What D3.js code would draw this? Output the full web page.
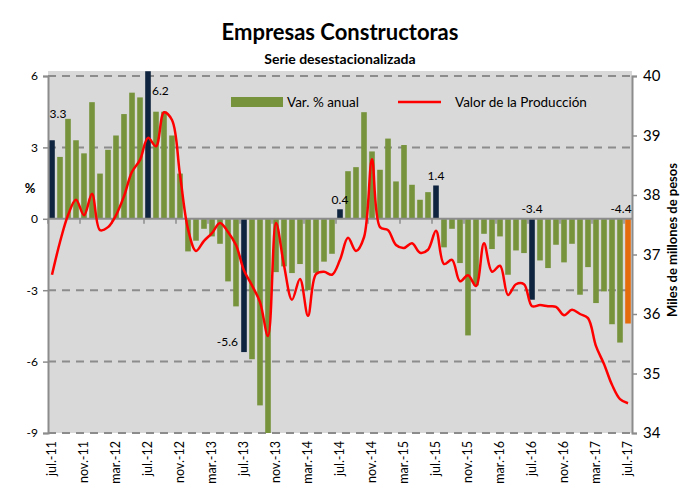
<!DOCTYPE html>
<html>
<head>
<meta charset="utf-8">
<script src="https://cdn.jsdelivr.net/npm/d3@7"></script>
<style>
  body { margin: 0; background: #fff; }
  text { font-family: Lato, "Open Sans", sans-serif; fill: #000; }
</style>
</head>
<body>
<script>
// monthly categories jul-11 .. jul-17
var months = [
  "jul.-11","ago.-11","sep.-11","oct.-11","nov.-11","dic.-11",
  "ene.-12","feb.-12","mar.-12","abr.-12","may.-12","jun.-12","jul.-12","ago.-12","sep.-12","oct.-12","nov.-12","dic.-12",
  "ene.-13","feb.-13","mar.-13","abr.-13","may.-13","jun.-13","jul.-13","ago.-13","sep.-13","oct.-13","nov.-13","dic.-13",
  "ene.-14","feb.-14","mar.-14","abr.-14","may.-14","jun.-14","jul.-14","ago.-14","sep.-14","oct.-14","nov.-14","dic.-14",
  "ene.-15","feb.-15","mar.-15","abr.-15","may.-15","jun.-15","jul.-15","ago.-15","sep.-15","oct.-15","nov.-15","dic.-15",
  "ene.-16","feb.-16","mar.-16","abr.-16","may.-16","jun.-16","jul.-16","ago.-16","sep.-16","oct.-16","nov.-16","dic.-16",
  "ene.-17","feb.-17","mar.-17","abr.-17","may.-17","jun.-17","jul.-17"
];

// Var. % anual (bars)
var varAnual = [
  3.3, 2.6, 4.2, 3.3, 2.75, 4.9,
  1.9, 2.9, 3.5, 4.4, 5.3, 5.1, 6.2, 4.5, 4.5, 3.5, 1.9, -1.37,
  -0.92, -0.42, -0.74, -1.05, -2.63, -3.68, -5.6, -5.9, -7.84, -9.0, -2.24, -2.0,
  -2.28, -1.9, -3.0, -2.27, -1.8, -1.47, 0.4, 2.0, 2.17, 4.48, 2.83, 2.06,
  3.37, 1.57, 3.1, 1.43, 0.8, 1.12, 1.4, -1.2, -0.42, -1.86, -4.9, -2.8,
  -0.63, -1.27, -0.74, -2.35, -1.33, -1.44, -3.4, -1.75, -2.07, -1.09, -1.83, -1.05,
  -3.19, -2.03, -3.54, -3.05, -4.43, -5.2, -4.4
];

// Valor de la Producción (line, miles de millones de pesos)
var valorProd = [
  36.66, 37.21, 37.66, 37.92, 37.66, 38.02,
  37.41, 37.46, 37.66, 37.98, 38.39, 38.59, 38.96, 38.82, 39.39, 39.26, 38.34, 37.43,
  37.06, 37.23, 37.36, 37.53, 37.38, 37.16, 36.73, 36.48, 36.20, 35.63, 37.53, 36.82,
  36.24, 36.59, 35.97, 36.67, 36.71, 36.66, 36.91, 37.28, 37.06, 37.29, 38.6, 37.46,
  37.41, 37.16, 37.11, 37.19, 37.03, 37.08, 37.4, 36.84, 36.91, 36.55, 36.65, 36.47,
  37.19, 36.71, 36.81, 36.32, 36.5, 36.5, 36.13, 36.15, 36.13, 36.12, 35.98, 36.07,
  36.0, 35.93, 35.46, 35.16, 34.81, 34.57, 34.5
];

// highlighted months (July of each year) and the latest month
var highlightMonths = ["jul.-11","jul.-12","jul.-13","jul.-14","jul.-15","jul.-16"];
var latestMonth = "jul.-17";

var tickMonths = months.filter(function(m, i) { return i % 4 === 0; });
var leftTicks = [6, 3, 0, -3, -6, -9];
var rightTicks = [40, 39, 38, 37, 36, 35, 34];

// labelled bars
var labelMonths = ["jul.-11","jul.-12","jul.-13","jul.-14","jul.-15","jul.-16","jul.-17"];

var W = 682, H = 494;
var pLeft = 48, pRight = 632, pTop = 76, pBottom = 433;

var svg = d3.select("body").append("svg")
    .attr("width", W)
    .attr("height", H);

var x = d3.scaleBand()
    .domain(months)
    .range([pLeft, pRight])
    .paddingInner(0.3)
    .paddingOuter(0.15);

var y = d3.scaleLinear().domain([-9, 6]).range([pBottom, pTop]);
var y2 = d3.scaleLinear().domain([34, 40]).range([pBottom, pTop]);

// plot background
svg.append("rect")
    .attr("x", pLeft).attr("y", pTop - 5)
    .attr("width", pRight - pLeft).attr("height", pBottom - pTop + 5)
    .attr("fill", "#d9d9d9");

// dashed gridlines
svg.selectAll(".grid")
    .data(leftTicks.filter(function(d) { return d !== 0; }))
    .enter().append("line")
    .attr("x1", pLeft).attr("x2", pRight)
    .attr("y1", function(d) { return y(d); })
    .attr("y2", function(d) { return y(d); })
    .attr("stroke", "#8c8c8c")
    .attr("stroke-width", 2)
    .attr("stroke-dasharray", "8,6");

// bars
svg.selectAll(".bar")
    .data(months)
    .enter().append("rect")
    .attr("x", function(d) { return x(d); })
    .attr("width", x.bandwidth())
    .attr("y", function(d, i) { return y(Math.max(0, varAnual[i])); })
    .attr("height", function(d, i) { return Math.abs(y(varAnual[i]) - y(0)); })
    .attr("fill", function(d) {
        if (d === latestMonth) return "#e46c0a";
        if (highlightMonths.indexOf(d) >= 0) return "#0f243e";
        return "#77933c";
    });

// zero axis with ticks every 4 months
svg.append("line")
    .attr("x1", pLeft).attr("x2", pRight)
    .attr("y1", y(0)).attr("y2", y(0))
    .attr("stroke", "#8c8c8c").attr("stroke-width", 2);

svg.selectAll(".xtick")
    .data(tickMonths)
    .enter().append("line")
    .attr("x1", function(d) { return x(d) - x.step() * x.paddingInner() / 2; })
    .attr("x2", function(d) { return x(d) - x.step() * x.paddingInner() / 2; })
    .attr("y1", y(0)).attr("y2", y(0) + 5)
    .attr("stroke", "#8c8c8c").attr("stroke-width", 1.5);

// line
var prodLine = d3.line()
    .x(function(d, i) { return x(months[i]) + x.bandwidth() / 2; })
    .y(function(d) { return y2(d); })
    .curve(d3.curveCatmullRom.alpha(0.5));

svg.append("path")
    .datum(valorProd)
    .attr("d", prodLine)
    .attr("fill", "none")
    .attr("stroke", "#ff0000")
    .attr("stroke-width", 2.5);

// left axis
var yAxis = d3.axisLeft(y).tickValues(leftTicks).tickSize(5).tickFormat(function(d) { return String(d); });
var gl = svg.append("g").attr("transform", "translate(" + pLeft + ",0)").call(yAxis);
gl.select(".domain").attr("stroke", "#8c8c8c").attr("stroke-width", 2);
gl.selectAll(".tick line").attr("stroke", "#8c8c8c").attr("stroke-width", 1.5);
gl.selectAll(".tick text").attr("font-size", 12).attr("dx", -2);

// right axis
var yAxis2 = d3.axisRight(y2).tickValues(rightTicks).tickSize(5).tickFormat(function(d) { return String(d); });
var gr = svg.append("g").attr("transform", "translate(" + pRight + ",0)").call(yAxis2);
gr.select(".domain").attr("stroke", "#8c8c8c").attr("stroke-width", 2);
gr.selectAll(".tick line").attr("stroke", "#8c8c8c").attr("stroke-width", 1.5);
gr.selectAll(".tick text").attr("font-size", 15).attr("dx", 3);

// x labels
svg.selectAll(".xlab")
    .data(tickMonths)
    .enter().append("text")
    .attr("transform", function(d) {
        return "translate(" + (x(d) + x.bandwidth() / 2 + 4) + "," + (pBottom + 8) + ") rotate(-90)";
    })
    .attr("text-anchor", "end")
    .attr("font-size", 12.5)
    .text(function(d) { return d; });

// data labels
svg.selectAll(".dlab")
    .data(labelMonths)
    .enter().append("text")
    .attr("font-size", 12)
    .attr("x", function(d) {
        var cx = x(d) + x.bandwidth() / 2;
        if (d === "jul.-11") return cx + 6;
        if (d === "jul.-12") return cx + 4;
        if (d === "jul.-13") return cx - 6;
        if (d === "jul.-17") return cx - 7;
        return cx;
    })
    .attr("y", function(d) {
        var v = varAnual[months.indexOf(d)];
        if (d === "jul.-11") return y(v) - 22;
        if (d === "jul.-12") return y(v) + 24;
        if (d === "jul.-13") return y(v) - 6;
        if (v < 0) return y(0) - 6;
        return y(v) - 5;
    })
    .attr("text-anchor", function(d) {
        if (d === "jul.-12") return "start";
        if (d === "jul.-13") return "end";
        return "middle";
    })
    .text(function(d) { return varAnual[months.indexOf(d)].toFixed(1); });

// titles
svg.append("text")
    .attr("x", 340).attr("y", 40)
    .attr("text-anchor", "middle")
    .attr("font-size", 22).attr("font-weight", "bold")
    .text("Empresas Constructoras");
svg.append("text")
    .attr("x", 340).attr("y", 64)
    .attr("text-anchor", "middle")
    .attr("font-size", 14).attr("font-weight", "bold")
    .text("Serie desestacionalizada");

svg.append("text")
    .attr("x", 30).attr("y", 193)
    .attr("text-anchor", "middle")
    .attr("font-size", 13).attr("font-weight", "bold")
    .text("%");

svg.append("text")
    .attr("transform", "translate(677,240) rotate(-90)")
    .attr("text-anchor", "middle")
    .attr("font-size", 13).attr("font-weight", "bold")
    .text("Miles de millones de pesos");

// legend
var lg = svg.append("g");
lg.append("rect").attr("x", 231).attr("y", 97).attr("width", 52).attr("height", 10).attr("fill", "#77933c");
lg.append("text").attr("x", 287).attr("y", 107).attr("font-size", 13.5).text("Var. % anual");
lg.append("line").attr("x1", 398).attr("x2", 441).attr("y1", 102).attr("y2", 102)
    .attr("stroke", "#ff0000").attr("stroke-width", 2.5);
lg.append("text").attr("x", 455).attr("y", 107).attr("font-size", 13.5).text("Valor de la Producción");
</script>
</body>
</html>
